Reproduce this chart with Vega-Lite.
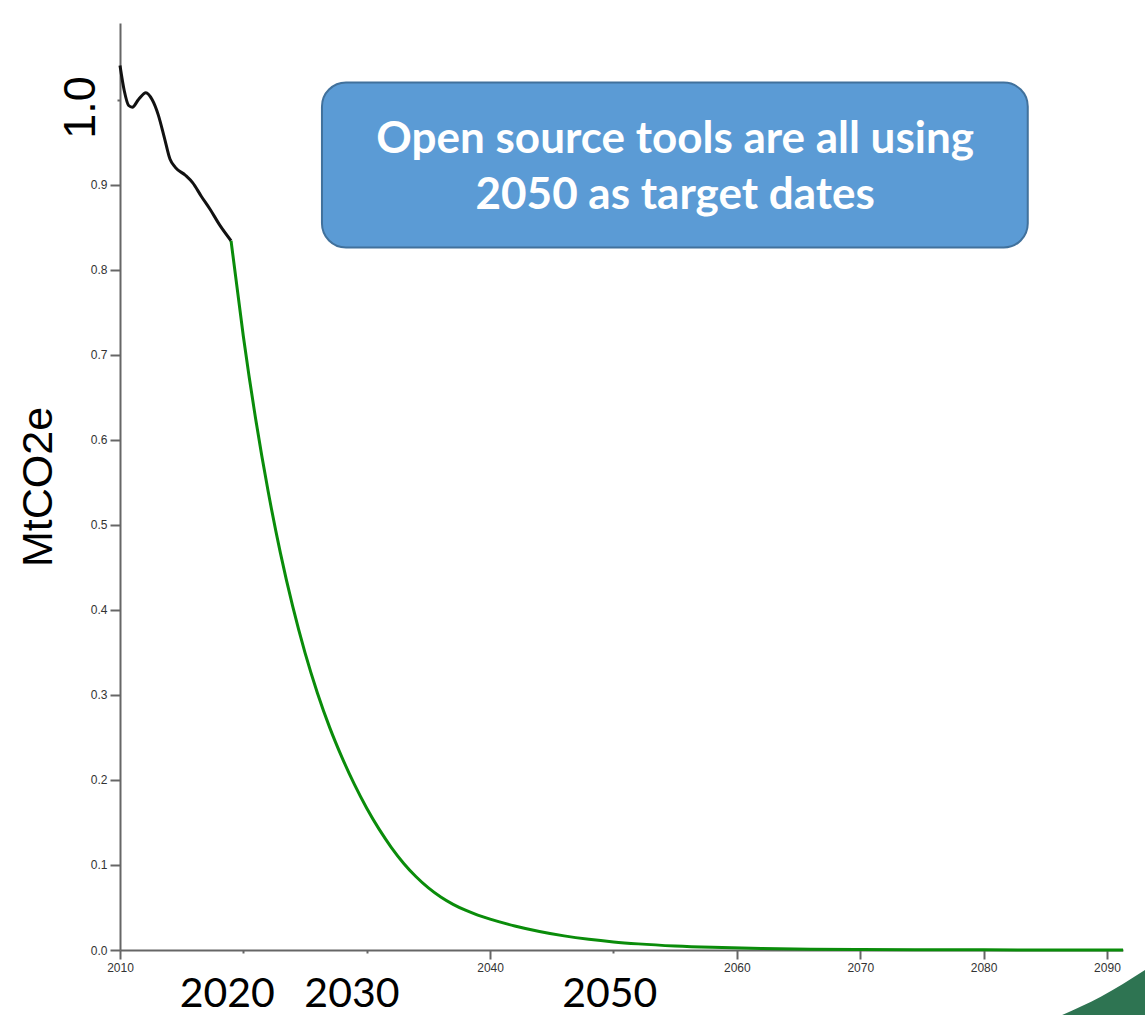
{
  "$schema": "https://vega.github.io/schema/vega-lite/v6.json",
  "width": 1003,
  "height": 927,
  "autosize": {"type": "none"},
  "padding": {"left": 120, "top": 23, "right": 22, "bottom": 65},
  "background": "white",
  "config": {"view": {"stroke": null}},
  "datasets": {
    "curve": [
      {"year": 2010.0, "v": 1.04, "s": "hist"},
      {"year": 2010.35, "v": 1.01, "s": "hist"},
      {"year": 2010.7, "v": 0.993, "s": "hist"},
      {"year": 2011.0, "v": 0.991, "s": "hist"},
      {"year": 2011.5, "v": 1.0, "s": "hist"},
      {"year": 2012.1, "v": 1.008, "s": "hist"},
      {"year": 2012.6, "v": 1.0, "s": "hist"},
      {"year": 2013.1, "v": 0.982, "s": "hist"},
      {"year": 2013.6, "v": 0.955, "s": "hist"},
      {"year": 2014.05, "v": 0.93, "s": "hist"},
      {"year": 2014.5, "v": 0.92, "s": "hist"},
      {"year": 2015.3, "v": 0.911, "s": "hist"},
      {"year": 2015.9, "v": 0.902, "s": "hist"},
      {"year": 2016.6, "v": 0.886, "s": "hist"},
      {"year": 2017.3, "v": 0.871, "s": "hist"},
      {"year": 2018.1, "v": 0.852, "s": "hist"},
      {"year": 2019.0, "v": 0.834, "s": "hist"},
      {"year": 2019.0, "v": 0.834, "s": "proj"},
      {"year": 2020, "v": 0.7214, "s": "proj"},
      {"year": 2021, "v": 0.6241, "s": "proj"},
      {"year": 2022, "v": 0.5399, "s": "proj"},
      {"year": 2023, "v": 0.467, "s": "proj"},
      {"year": 2024, "v": 0.404, "s": "proj"},
      {"year": 2025, "v": 0.3494, "s": "proj"},
      {"year": 2026, "v": 0.3023, "s": "proj"},
      {"year": 2027, "v": 0.2615, "s": "proj"},
      {"year": 2028, "v": 0.2262, "s": "proj"},
      {"year": 2029, "v": 0.1947, "s": "proj"},
      {"year": 2030, "v": 0.1667, "s": "proj"},
      {"year": 2031, "v": 0.1421, "s": "proj"},
      {"year": 2032, "v": 0.1205, "s": "proj"},
      {"year": 2033, "v": 0.1018, "s": "proj"},
      {"year": 2034, "v": 0.0861, "s": "proj"},
      {"year": 2035, "v": 0.073, "s": "proj"},
      {"year": 2036, "v": 0.0623, "s": "proj"},
      {"year": 2037, "v": 0.0537, "s": "proj"},
      {"year": 2038, "v": 0.0468, "s": "proj"},
      {"year": 2039, "v": 0.0411, "s": "proj"},
      {"year": 2040, "v": 0.0363, "s": "proj"},
      {"year": 2042, "v": 0.0283, "s": "proj"},
      {"year": 2044, "v": 0.0218, "s": "proj"},
      {"year": 2046, "v": 0.0166, "s": "proj"},
      {"year": 2048, "v": 0.0126, "s": "proj"},
      {"year": 2050, "v": 0.0095, "s": "proj"},
      {"year": 2052, "v": 0.0072, "s": "proj"},
      {"year": 2055, "v": 0.0047, "s": "proj"},
      {"year": 2058, "v": 0.0031, "s": "proj"},
      {"year": 2062, "v": 0.0018, "s": "proj"},
      {"year": 2066, "v": 0.001, "s": "proj"},
      {"year": 2070, "v": 0.0006, "s": "proj"},
      {"year": 2075, "v": 0.0003, "s": "proj"},
      {"year": 2080, "v": 0.00015, "s": "proj"},
      {"year": 2091.3, "v": 0.00003, "s": "proj"}
    ],
    "box": [{"year": 2026.37, "year2": 2083.58, "v": 1.02, "v2": 0.826}],
    "boxText": [
      {"year": 2055.0, "v": 0.953, "t": "Open source tools are all using"},
      {"year": 2055.0, "v": 0.887, "t": "2050 as target dates"}
    ],
    "bigYears": [
      {"year": 2018.7, "v": -0.067, "t": "2020"},
      {"year": 2028.8, "v": -0.067, "t": "2030"},
      {"year": 2049.7, "v": -0.067, "t": "2050"}
    ],
    "bigOne": [{"year": 2006.84, "v": 0.9906, "t": "1.0"}],
    "tri": [
      {"year": 2086.2, "v": -0.0775, "v2": -0.0775},
      {"year": 2089.5, "v": -0.055, "v2": -0.0775},
      {"year": 2093.1, "v": -0.0235, "v2": -0.0775}
    ]
  },
  "layer": [
    {
      "data": {"name": "curve"},
      "mark": {"type": "line", "strokeWidth": 3, "interpolate": "monotone"},
      "encoding": {
        "x": {
          "field": "year", "type": "quantitative",
          "scale": {"domain": [2010, 2091.3], "nice": false, "zero": false},
          "axis": {
            "values": [2010, 2020, 2030, 2040, 2050, 2060, 2070, 2080, 2090],
            "labelExpr": "datum.value == 2020 || datum.value == 2030 || datum.value == 2050 ? '' : datum.value",
            "tickSize": {"condition": {"test": "datum.value == 2020 || datum.value == 2030 || datum.value == 2050", "value": 3}, "value": 9},
            "title": null, "grid": false, "labelFlush": false,
            "domainColor": "#666", "domainWidth": 2, "tickColor": "#666", "tickWidth": 2,
            "labelFont": "Liberation Sans", "labelFontSize": 12, "labelColor": "#333", "labelPadding": 3
          }
        },
        "y": {
          "field": "v", "type": "quantitative",
          "scale": {"domain": [0, 1.09], "nice": false, "zero": false},
          "axis": {
            "values": [0, 0.1, 0.2, 0.3, 0.4, 0.5, 0.6, 0.7, 0.8, 0.9, 1.0],
            "labelExpr": "datum.value >= 0.95 ? '' : format(datum.value, '.1f')",
            "tickSize": {"condition": {"test": "datum.value >= 0.95", "value": 3}, "value": 10},
            "title": "MtCO2e", "titleFont": "Liberation Sans", "titleFontSize": 43, "titleFontWeight": "normal", "titleColor": "black", "titlePadding": 30,
            "grid": false, "labelFlush": false,
            "domainColor": "#666", "domainWidth": 2, "tickColor": "#666", "tickWidth": 2,
            "labelFont": "Liberation Sans", "labelFontSize": 12, "labelColor": "#333", "labelPadding": 3
          }
        },
        "color": {"field": "s", "type": "nominal", "scale": {"domain": ["hist", "proj"], "range": ["#111111", "#0a8c0a"]}, "legend": null},
        "detail": {"field": "s"}
      }
    },
    {
      "data": {"name": "box"},
      "mark": {"type": "rect", "cornerRadius": 24, "fill": "#5b9bd5", "stroke": "#41719c", "strokeWidth": 2},
      "encoding": {
        "x": {"field": "year", "type": "quantitative"},
        "x2": {"field": "year2"},
        "y": {"field": "v", "type": "quantitative"},
        "y2": {"field": "v2"}
      }
    },
    {
      "data": {"name": "boxText"},
      "mark": {"type": "text", "font": "Lato", "fontWeight": "bold", "fontSize": 44, "color": "white", "align": "center", "baseline": "middle"},
      "encoding": {
        "x": {"field": "year", "type": "quantitative"},
        "y": {"field": "v", "type": "quantitative"},
        "text": {"field": "t"}
      }
    },
    {
      "data": {"name": "bigYears"},
      "mark": {"type": "text", "font": "Lato", "fontSize": 41, "color": "black", "align": "center", "baseline": "alphabetic"},
      "encoding": {
        "x": {"field": "year", "type": "quantitative"},
        "y": {"field": "v", "type": "quantitative"},
        "text": {"field": "t"}
      }
    },
    {
      "data": {"name": "bigOne"},
      "mark": {"type": "text", "font": "Liberation Sans", "fontSize": 45, "color": "black", "align": "center", "baseline": "middle", "angle": 270},
      "encoding": {
        "x": {"field": "year", "type": "quantitative"},
        "y": {"field": "v", "type": "quantitative"},
        "text": {"field": "t"}
      }
    },
    {
      "data": {"name": "tri"},
      "mark": {"type": "area", "color": "#2e7452", "clip": false, "interpolate": "monotone"},
      "encoding": {
        "x": {"field": "year", "type": "quantitative"},
        "y": {"field": "v", "type": "quantitative"},
        "y2": {"field": "v2"}
      }
    }
  ]
}
